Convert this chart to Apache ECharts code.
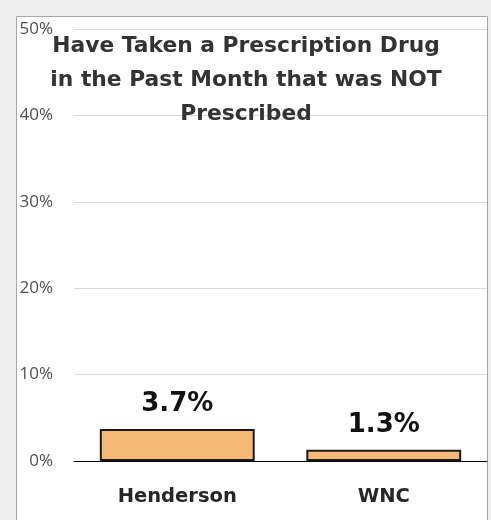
<!DOCTYPE html>
<html><head><meta charset="utf-8">
<script src="https://cdn.jsdelivr.net/npm/echarts@6/dist/echarts.min.js"></script>
<style>html,body{margin:0;padding:0;background:#efefef;}#c{width:491px;height:520px;}</style>
</head><body><div id="c"></div>
<script>
const categories = ['Henderson', 'WNC'];
const values = [3.7, 1.3];
const yTicks = [0, 10, 20, 30, 40, 50];
const titleText = 'Have Taken a Prescription Drug\nin the Past Month that was NOT\nPrescribed';

const chart = echarts.init(document.getElementById('c'));
chart.setOption({
  animation: false,
  backgroundColor: '#efefef',
  graphic: [{
    type: 'rect', z: -10, silent: true,
    shape: { x: 16.5, y: 16.5, width: 471, height: 520 },
    style: { fill: '#ffffff', stroke: '#a6a6a6', lineWidth: 1 }
  }],
  title: {
    text: titleText,
    left: 241, top: 24, textAlign: 'center',
    textStyle: { fontFamily: 'DejaVu Sans', fontWeight: 'bold', fontSize: 21.8, color: '#333333', lineHeight: 34 }
  },
  grid: { left: 74, right: 4, top: 29, bottom: 59 },
  xAxis: {
    type: 'category', data: categories,
    axisLine: { lineStyle: { color: '#000', width: 1 } },
    axisTick: { show: false },
    axisLabel: { margin: 26, fontFamily: 'DejaVu Sans', fontWeight: 'bold', fontSize: 19.5, color: '#262626' }
  },
  yAxis: {
    type: 'value', min: 0, max: 50, interval: 10,
    axisLine: { show: false }, axisTick: { show: false },
    splitLine: { lineStyle: { color: '#d9d9d9' } },
    axisLabel: { margin: 21, fontFamily: 'Open Sans', fontSize: 17, color: '#505050',
      formatter: v => yTicks.includes(v) ? v + '%' : '' }
  },
  series: [{
    type: 'bar', data: values, barWidth: '75%',
    itemStyle: { color: '#f5b978', borderColor: '#1a1a1a', borderWidth: 2 },
    label: { show: true, position: 'top', distance: 12, formatter: p => p.value + '%',
      fontFamily: 'DejaVu Sans', fontWeight: 'bold', fontSize: 26, color: '#111' }
  }]
});
</script></body></html>
